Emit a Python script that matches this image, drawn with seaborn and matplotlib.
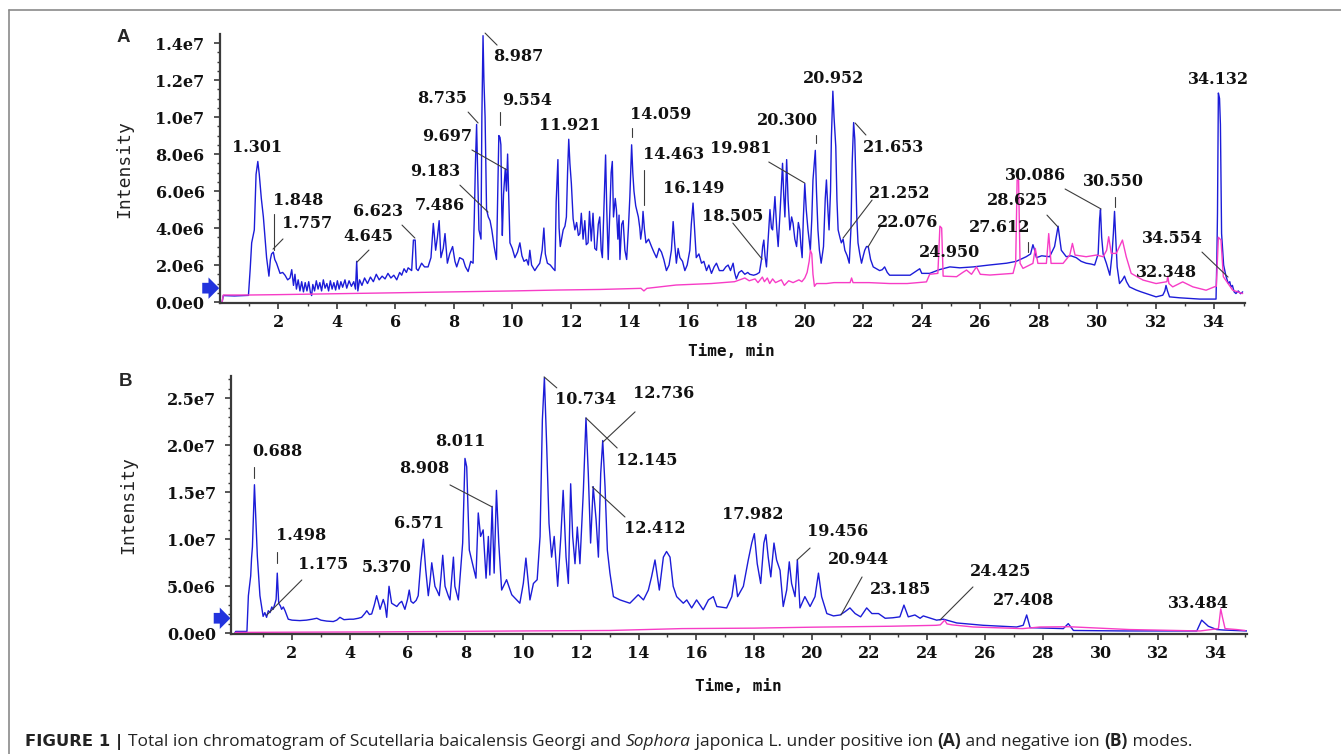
import numpy as np
import pandas as pd
import matplotlib
matplotlib.use("Agg")
import matplotlib.pyplot as plt
import seaborn as sns
from matplotlib.ticker import MultipleLocator, FixedLocator, FuncFormatter
from matplotlib.lines import Line2D

# ======== data (time in min, intensity in 1e6 counts) ========
a_pos_time = [0.08, 0.12, 0.5, 0.98, 1.04, 1.09, 1.18, 1.24, 1.30, 1.35, 1.42, 1.49, 1.60, 1.68, 1.73, 1.77,
              1.83, 1.88, 1.94, 2.06, 2.15, 2.23, 2.32, 2.40, 2.46, 2.52, 2.57, 2.62, 2.68, 2.74, 2.80, 2.86,
              2.92, 2.98, 3.04, 3.10, 3.14, 3.18, 3.24, 3.30, 3.36, 3.42, 3.48, 3.54, 3.60, 3.66, 3.72, 3.78,
              3.84, 3.90, 3.96, 4.02, 4.08, 4.14, 4.20, 4.28, 4.34, 4.42, 4.50, 4.58, 4.64, 4.68, 4.72, 4.78,
              4.86, 4.95, 5.05, 5.15, 5.25, 5.35, 5.45, 5.55, 5.65, 5.75, 5.85, 5.95, 6.05, 6.15, 6.22, 6.30,
              6.38, 6.44, 6.56, 6.62, 6.68, 6.72, 6.78, 6.90, 7.00, 7.12, 7.22, 7.30, 7.38, 7.44, 7.50, 7.56,
              7.64, 7.70, 7.78, 7.86, 7.96, 8.04, 8.10, 8.20, 8.32, 8.40, 8.49, 8.58, 8.66, 8.70, 8.74, 8.78,
              8.83, 8.86, 8.93, 8.96, 9.00, 9.03, 9.07, 9.12, 9.18, 9.24, 9.30, 9.38, 9.46, 9.50, 9.54, 9.58,
              9.61, 9.64, 9.66, 9.70, 9.76, 9.80, 9.84, 9.88, 9.92, 10.00, 10.09, 10.18, 10.26, 10.33, 10.40,
              10.49, 10.55, 10.60, 10.66, 10.77, 10.85, 10.94, 11.02, 11.08, 11.13, 11.20, 11.30, 11.40, 11.46,
              11.50, 11.56, 11.60, 11.64, 11.74, 11.80, 11.85, 11.89, 11.93, 11.97, 12.02, 12.08, 12.14, 12.20,
              12.26, 12.31, 12.36, 12.42, 12.48, 12.53, 12.59, 12.64, 12.70, 12.76, 12.82, 12.88, 12.94, 12.99,
              13.04, 13.08, 13.14, 13.19, 13.23, 13.28, 13.34, 13.38, 13.42, 13.46, 13.52, 13.56, 13.61, 13.65,
              13.68, 13.74, 13.79, 13.85, 13.91, 13.97, 14.02, 14.08, 14.12, 14.16, 14.22, 14.31, 14.36, 14.39,
              14.44, 14.47, 14.52, 14.57, 14.66, 14.76, 14.84, 14.93, 15.02, 15.10, 15.18, 15.27, 15.36, 15.44,
              15.50, 15.55, 15.61, 15.67, 15.73, 15.82, 15.90, 15.98, 16.07, 16.12, 16.18, 16.23, 16.29, 16.38,
              16.47, 16.55, 16.64, 16.72, 16.81, 16.90, 16.98, 17.08, 17.21, 17.30, 17.38, 17.46, 17.55, 17.60,
              17.66, 17.75, 17.84, 17.95, 18.05, 18.12, 18.25, 18.35, 18.45, 18.52, 18.56, 18.60, 18.64, 18.69,
              18.75, 18.81, 18.86, 18.90, 18.95, 18.98, 19.04, 19.09, 19.16, 19.24, 19.28, 19.32, 19.38, 19.43,
              19.49, 19.55, 19.60, 19.66, 19.72, 19.78, 19.83, 19.87, 19.91, 19.95, 20.00, 20.05, 20.11, 20.19,
              20.24, 20.28, 20.36, 20.40, 20.45, 20.50, 20.56, 20.64, 20.70, 20.74, 20.79, 20.83, 20.88, 20.91,
              20.96, 21.00, 21.06, 21.10, 21.14, 21.20, 21.25, 21.31, 21.37, 21.45, 21.52, 21.58, 21.62, 21.67,
              21.71, 21.74, 21.78, 21.82, 21.88, 21.94, 22.00, 22.05, 22.11, 22.17, 22.25, 22.34, 22.45, 22.56,
              22.65, 22.73, 22.82, 22.90, 23.2, 23.6, 23.93, 24.0, 24.27, 24.6, 24.96, 25.3, 25.76, 26.3, 26.9,
              27.23, 27.57, 27.72, 27.80, 27.86, 27.92, 28.1, 28.37, 28.54, 28.66, 28.72, 28.77, 28.94, 29.10,
              29.28, 29.45, 29.62, 29.80, 29.91, 30.03, 30.08, 30.11, 30.15, 30.20, 30.31, 30.43, 30.50, 30.55,
              30.59, 30.63, 30.68, 30.76, 30.86, 30.93, 31.0, 31.10, 31.33, 31.50, 31.67, 32.01, 32.24, 32.31,
              32.35, 32.40, 32.47, 32.81, 33.5, 34.06, 34.09, 34.11, 34.14, 34.18, 34.21, 34.25, 34.32, 34.40,
              34.48, 34.53, 34.57, 34.62, 34.68, 34.74, 34.82, 34.90, 34.97]
a_pos_int = [0.0, 0.35, 0.33, 0.36, 1.8, 3.2, 3.9, 6.9, 7.6, 6.9, 5.6, 4.6, 2.4, 1.4, 2.3, 2.6,
             2.7, 2.3, 2.1, 1.55, 1.6, 1.45, 1.2, 1.3, 1.75, 0.9, 1.5, 0.7, 1.2, 0.6, 1.1, 0.55,
             1.05, 0.6, 1.1, 0.5, 0.35, 0.95, 0.6, 1.15, 0.7, 1.05, 0.6, 1.2, 0.75, 1.0, 0.6, 1.15,
             0.7, 1.05, 0.65, 1.15, 0.7, 1.1, 0.8, 1.2, 0.75, 1.15, 0.85, 1.1, 0.7, 2.2, 0.6, 1.2,
             0.9, 1.3, 1.0, 1.35, 1.1, 1.5, 1.2, 1.4, 1.25, 1.55, 1.3, 1.45, 1.2, 1.6, 1.45, 1.8,
             1.6, 1.85, 1.7, 3.35, 3.35, 1.8, 1.7, 2.1, 1.9, 1.9, 2.4, 4.25, 2.8, 3.5, 4.4, 2.4,
             2.9, 3.7, 2.1, 2.6, 3.0, 2.2, 1.9, 2.4, 2.3, 1.9, 1.65, 2.2, 2.1, 4.5, 7.5, 9.6,
             6.0, 3.9, 3.4, 10.0, 14.4, 12.0, 10.0, 5.0, 4.6, 4.4, 3.9, 3.0, 2.3, 5.5, 9.0, 8.9,
             8.5, 5.0, 3.6, 5.8, 7.2, 6.0, 8.0, 5.5, 3.2, 2.9, 2.4, 2.7, 3.2, 2.5, 2.2,
             2.3, 2.0, 2.8, 2.0, 1.7, 1.9, 2.1, 2.8, 4.0, 2.6, 2.1, 2.0, 1.8, 1.7,
             5.4, 7.7, 4.0, 3.0, 3.9, 4.1, 4.6, 7.0, 8.8, 7.5, 6.4, 4.5, 3.9, 4.3,
             3.6, 3.7, 4.8, 3.4, 4.4, 3.1, 3.2, 4.9, 3.3, 4.8, 2.9, 2.8, 4.2, 4.6,
             2.8, 2.4, 5.5, 7.95, 5.0, 2.3, 5.2, 7.0, 7.6, 4.6, 5.6, 5.0, 3.4, 4.7,
             2.3, 4.2, 4.4, 2.8, 2.3, 4.0, 5.7, 8.5, 7.0, 6.0, 5.2, 4.6, 4.0, 3.4,
             4.0, 4.9, 3.9, 3.2, 3.4, 3.0, 2.7, 2.4, 2.9, 2.7, 2.3, 1.7, 2.0, 2.8,
             4.35, 3.2, 2.1, 2.9, 2.4, 2.2, 1.7, 2.0, 2.8, 4.2, 5.35, 4.0, 2.4, 2.6,
             2.1, 2.2, 1.7, 2.0, 1.55, 1.9, 2.1, 1.7, 1.7, 1.9, 2.0, 1.7, 2.1, 1.6,
             1.25, 1.6, 1.7, 1.5, 1.6, 1.5, 1.45, 1.5, 1.6, 2.3, 3.0, 3.35, 2.5, 1.9,
             3.5, 5.0, 4.0, 3.9, 5.0, 5.7, 4.0, 3.0, 5.0, 7.5, 5.8, 4.6, 7.7, 5.5,
             3.9, 4.6, 4.25, 3.4, 3.0, 4.3, 3.9, 3.0, 2.4, 4.5, 6.4, 5.0, 3.9, 2.8,
             4.5, 6.6, 8.2, 6.0, 3.9, 2.8, 2.1, 3.0, 5.6, 6.6, 5.0, 3.9, 6.0, 8.9,
             11.4, 10.0, 8.4, 5.5, 3.9, 3.5, 3.2, 3.4, 2.8, 2.5, 2.1, 4.0, 7.5, 9.7,
             8.8, 7.0, 4.5, 3.2, 2.6, 2.1, 2.5, 2.8, 3.0, 3.0, 2.3, 1.9, 1.8, 1.7,
             1.75, 1.9, 1.6, 1.45, 1.45, 1.45, 1.8, 1.55, 1.55, 1.75, 1.9, 1.85, 1.9, 2.0, 2.1,
             2.2, 2.45, 2.6, 3.1, 2.8, 2.4, 2.5, 2.45, 3.0, 4.1, 3.4, 2.8, 2.45, 2.5,
             2.4, 2.2, 2.1, 2.05, 2.0, 2.6, 4.5, 5.0, 3.5, 2.6, 2.1, 1.45, 2.5, 3.7,
             4.9, 3.5, 1.9, 1.0, 1.2, 1.4, 1.1, 0.82, 0.65, 0.55, 0.46, 0.28, 0.37, 0.6,
             0.9, 0.6, 0.28, 0.23, 0.16, 0.16, 2.5, 4.8, 11.3, 11.0, 9.6, 3.7, 2.0, 1.4,
             1.0, 1.1, 0.82, 0.9, 0.55, 0.46, 0.6, 0.45, 0.55]

a_neg_time = [0.08, 0.12, 1.0, 2.0, 4.0, 6.0, 8.0, 10.0, 11.6, 13.0, 14.4, 14.5, 14.6, 15.6, 16.8, 17.6,
              17.95, 18.1, 18.3, 18.4, 18.55, 18.62, 18.72, 18.8, 18.9, 19.0, 19.2, 19.3, 19.45, 19.6, 19.8,
              19.9, 20.0, 20.08, 20.15, 20.19, 20.24, 20.28, 20.33, 20.4, 20.74, 21.0, 21.55, 21.6, 21.65,
              22.2, 22.9, 23.5, 24.16, 24.27, 24.55, 24.62, 24.68, 24.73, 25.19, 25.4, 25.53, 25.7, 25.87,
              26.0, 26.33, 27.12, 27.21, 27.26, 27.31, 27.36, 27.46, 27.8, 27.88, 27.97, 28.26, 28.34, 28.42,
              28.83, 29.06, 29.15, 29.24, 29.62, 29.97, 30.2, 30.32, 30.39, 30.48, 30.65, 30.86, 30.99,
              31.16, 31.56, 32.01, 32.38, 32.41, 32.45, 32.58, 32.92, 33.27, 33.72, 34.0, 34.07, 34.14,
              34.23, 34.31, 34.63, 34.97]
a_neg_int = [0.0, 0.38, 0.38, 0.4, 0.45, 0.5, 0.55, 0.6, 0.65, 0.68, 0.74, 0.6, 0.74, 0.92, 1.0, 1.1,
             1.3, 1.15, 1.25, 1.05, 1.35, 1.1, 1.3, 1.0, 1.25, 1.05, 1.2, 0.9, 1.15, 1.05, 1.2,
             1.1, 1.3, 1.6, 2.2, 2.8, 2.6, 1.5, 0.85, 1.0, 1.0, 1.05, 1.05, 1.3, 1.05,
             1.05, 1.0, 1.0, 1.09, 1.5, 1.55, 4.1, 4.0, 1.4, 1.37, 1.6, 1.73, 1.5, 1.9,
             1.5, 1.46, 1.55, 2.1, 6.6, 6.6, 2.1, 1.82, 2.09, 2.9, 2.09, 2.09, 3.7, 2.09,
             2.09, 2.54, 3.17, 2.54, 2.45, 2.54, 2.45, 2.8, 3.53, 2.63, 2.63, 3.35, 2.45,
             1.55, 1.19, 1.0, 1.1, 1.4, 1.0, 0.82, 1.09, 0.82, 0.64, 0.82, 0.85, 3.5,
             3.35, 1.37, 0.64, 0.46]

b_pos_time = [0.02, 0.05, 0.44, 0.49, 0.57, 0.60, 0.63, 0.67, 0.70, 0.74, 0.80, 0.89, 1.0, 1.06, 1.12,
              1.18, 1.24, 1.30, 1.35, 1.45, 1.49, 1.54, 1.60, 1.64, 1.70, 1.76, 1.87, 2.0, 2.27, 2.5, 2.7,
              2.86, 3.0, 3.2, 3.43, 3.55, 3.66, 3.8, 4.0, 4.13, 4.3, 4.41, 4.52, 4.59, 4.68, 4.76, 4.85,
              4.93, 5.0, 5.05, 5.16, 5.22, 5.28, 5.36, 5.45, 5.55, 5.63, 5.72, 5.8, 5.91, 6.0, 6.06, 6.12,
              6.2, 6.3, 6.37, 6.46, 6.55, 6.63, 6.72, 6.78, 6.84, 6.95, 7.03, 7.1, 7.16, 7.22, 7.3, 7.41,
              7.47, 7.59, 7.64, 7.76, 7.91, 7.99, 8.05, 8.14, 8.25, 8.37, 8.45, 8.53, 8.62, 8.72, 8.8, 8.85,
              8.93, 9.0, 9.08, 9.16, 9.26, 9.43, 9.61, 9.89, 10.01, 10.1, 10.24, 10.36, 10.49, 10.59, 10.67,
              10.74, 10.82, 10.9, 10.99, 11.08, 11.2, 11.31, 11.39, 11.49, 11.57, 11.65, 11.72, 11.8, 11.88,
              11.97, 12.09, 12.18, 12.26, 12.34, 12.43, 12.53, 12.61, 12.69, 12.76, 12.84, 12.92, 13.01,
              13.13, 13.36, 13.7, 13.99, 14.17, 14.34, 14.45, 14.57, 14.72, 14.86, 14.97, 15.09, 15.2,
              15.32, 15.55, 15.67, 15.84, 16.01, 16.24, 16.42, 16.59, 16.71, 17.05, 17.23, 17.34, 17.43,
              17.63, 17.8, 17.92, 18.01, 18.11, 18.23, 18.34, 18.41, 18.49, 18.58, 18.69, 18.78, 18.9,
              19.01, 19.13, 19.22, 19.3, 19.42, 19.5, 19.59, 19.76, 19.94, 20.11, 20.23, 20.34, 20.52,
              20.75, 20.98, 21.15, 21.32, 21.5, 21.69, 21.9, 22.08, 22.31, 22.54, 22.8, 23.05, 23.19,
              23.34, 23.57, 23.75, 23.86, 24.32, 24.56, 25.02, 25.94, 27.09, 27.32, 27.44, 27.56, 28.71,
              28.88, 29.06, 30.79, 33.33, 33.5, 33.73, 34.02, 34.25, 35.06]
b_pos_int = [0.0, 0.2, 0.2, 4.0, 6.1, 8.0, 9.2, 13.0, 15.8, 12.8, 8.2, 4.0, 1.8, 2.2, 1.7,
             2.4, 2.2, 2.8, 2.55, 3.6, 6.4, 3.2, 2.9, 2.55, 2.8, 2.4, 1.5, 1.4, 1.35, 1.4, 1.5,
             1.6, 1.4, 1.3, 1.25, 1.4, 1.7, 1.45, 1.5, 1.5, 1.6, 1.7, 2.1, 2.4, 2.0, 2.06, 3.0,
             4.0, 3.2, 2.55, 3.6, 3.0, 1.7, 5.0, 3.2, 3.0, 2.85, 3.2, 3.4, 2.55, 3.6, 4.6, 3.4,
             3.2, 3.5, 4.0, 7.5, 10.0, 6.8, 4.0, 5.5, 7.5, 5.0, 4.5, 4.0, 6.0, 8.3, 5.0, 4.0,
             3.55, 8.1, 5.0, 3.55, 9.6, 18.6, 17.7, 8.85, 7.4, 5.86, 12.8, 10.3, 11.0, 5.86, 10.3, 6.2,
             13.5, 6.4, 15.2, 9.6, 4.6, 5.7, 4.1, 3.2, 5.3, 8.0, 3.55, 5.3, 5.7, 10.3, 22.7,
             27.2, 19.9, 11.7, 8.1, 10.3, 5.0, 10.3, 15.2, 8.1, 5.3, 15.9, 10.3, 7.4, 11.3,
             7.4, 15.2, 22.9, 17.0, 9.6, 15.6, 12.1, 8.1, 17.0, 20.5, 15.6, 8.85, 6.4,
             3.9, 3.55, 3.2, 4.1, 3.55, 4.6, 6.0, 7.8, 4.6, 8.1, 8.7, 8.1, 5.0,
             3.9, 3.2, 3.55, 2.7, 3.55, 2.5, 3.55, 3.9, 2.85, 2.7, 3.9, 6.2, 3.9,
             5.0, 7.8, 9.6, 10.6, 7.4, 5.3, 9.6, 10.5, 8.1, 6.0, 9.6, 7.8, 6.7,
             2.85, 4.6, 7.6, 5.3, 3.9, 7.8, 2.7, 3.9, 2.85, 3.9, 6.4, 3.9, 2.1,
             1.85, 1.95, 2.3, 2.7, 2.1, 1.75, 2.7, 2.1, 2.1, 1.6, 1.65, 1.75, 3.0,
             1.75, 1.95, 1.6, 1.85, 1.4, 1.5, 1.1, 0.85, 0.67, 0.85, 1.95, 0.6, 0.5,
             1.03, 0.3, 0.25, 0.25, 1.4, 0.75, 0.4, 0.35, 0.25]

b_neg_time = [0.02, 0.05, 0.45, 2.0, 5.0, 7.47, 10.0, 13.0, 15.5, 18.0, 20.0, 22.71, 24.3, 24.45, 24.6,
              24.68, 24.85, 25.6, 27.3, 27.9, 28.9, 29.6, 31.0, 33.45, 34.08, 34.16, 34.22, 34.31, 34.71, 35.0]
b_neg_int = [0.0, 0.1, 0.1, 0.12, 0.15, 0.2, 0.25, 0.3, 0.5, 0.55, 0.65, 0.75, 0.85, 0.9, 1.4,
             1.0, 0.9, 0.67, 0.5, 0.67, 0.7, 0.6, 0.4, 0.25, 0.5, 2.6, 1.7, 0.5, 0.4, 0.3]

# ======== peak labels ========
a_peak_labels = ["1.301", "1.848", "1.757", "4.645", "6.623", "7.486", "9.183", "9.697", "8.735", "8.987",
                 "9.554", "11.921", "14.059", "14.463", "16.149", "18.505", "19.981", "20.300", "20.952",
                 "21.653", "21.252", "22.076", "24.950", "27.612", "28.625", "30.086", "30.550", "34.132",
                 "34.554", "32.348"]
b_peak_labels = ["0.688", "1.498", "1.175", "5.370", "6.571", "8.011", "8.908", "10.734", "12.736", "12.145",
                 "12.412", "17.982", "19.456", "20.944", "23.185", "24.425", "27.408", "33.484"]

# where each label sits (left, middle) and its leader line, in data units
a_label_xy = [(0.42, 8.38), (1.82, 5.51), (2.13, 4.22), (4.21, 3.57), (4.55, 4.92), (6.67, 5.24),
              (6.5, 7.03), (6.91, 8.97), (6.74, 11.03), (9.34, 13.3), (9.65, 10.92), (10.91, 9.57),
              (14.02, 10.16), (14.47, 7.95), (15.15, 6.16), (16.48, 4.65), (16.76, 8.32), (18.37, 9.84),
              (19.94, 12.1), (21.99, 8.38), (22.19, 5.89), (22.47, 4.32), (23.9, 2.7), (25.61, 4.05),
              (26.23, 5.51), (26.85, 6.86), (29.51, 6.49), (33.1, 12.05), (31.53, 3.46), (31.32, 1.62)]
a_leaders = [None, (1.85, 4.76, 1.85, 2.81), (2.16, 3.41, 1.82, 2.86), (5.1, 2.81, 4.69, 2.16),
             (6.23, 4.16, 6.67, 3.46), None, (8.21, 6.32, 9.17, 4.86), (8.62, 8.22, 9.82, 7.14),
             (8.49, 10.27, 8.83, 9.68), (9.07, 14.54, 9.48, 13.89), (9.58, 10.27, 9.58, 9.57), None,
             (14.09, 9.41, 14.09, 8.92), (14.5, 7.14, 14.5, 5.24), None, (17.54, 4.27, 18.54, 2.32),
             (18.77, 7.57, 20.0, 6.43), (20.38, 9.03, 20.38, 8.59), None, (21.72, 9.68, 22.09, 9.03),
             (22.3, 5.51, 21.31, 3.46), (22.57, 4.05, 22.16, 2.97), None, (27.63, 3.24, 27.63, 2.7),
             (28.28, 4.7, 28.66, 4.05), (28.9, 6.11, 30.13, 5.03), (30.6, 5.68, 30.6, 5.14), None,
             (33.58, 2.7, 34.47, 1.35), None]
b_label_xy = [(0.61, 19.29), (1.44, 10.35), (2.21, 7.27), (4.42, 6.95), (5.53, 11.63), (6.95, 20.35),
              (5.7, 17.48), (11.11, 24.82), (13.81, 25.46), (13.22, 18.33), (13.5, 11.1), (16.89, 12.6),
              (19.83, 10.88), (20.56, 7.9), (22.01, 4.71), (25.48, 6.52), (26.28, 3.54), (32.34, 3.22)]
b_leaders = [(0.68, 17.7, 0.68, 16.52), (1.48, 8.65, 1.48, 7.48), (2.34, 5.67, 1.13, 1.95), None, None, None,
             (7.47, 15.78, 8.93, 13.44), (10.73, 27.27, 11.17, 26.1), (13.88, 23.55, 12.77, 20.35),
             (12.18, 22.9, 13.26, 19.71), (12.4, 15.57, 13.53, 12.37), None, (19.94, 9.07, 19.49, 7.8),
             (21.74, 5.99, 21.01, 1.95), None, (25.58, 4.93, 24.44, 1.42), None, None]

BLUE = "#1c1cd8"
PINK = "#f73cc6"
AXIS = "#3a3a3a"
NUM_FONT = "DejaVu Serif"

sns.set_theme(style="ticks")
# default text (tick labels) in a bold serif; other texts name their own family
plt.rcParams["font.family"] = [NUM_FONT]
plt.rcParams["font.weight"] = "bold"


def sci_label(v, pos):
    if abs(v) < 1e-9:
        return "0.0e0"
    if v < 0:
        return ""
    val = v * 1e6
    ex = int(np.floor(np.log10(val) + 1e-9))
    return f"{val / 10 ** ex:.1f}e{ex}"


def draw_panel(ax, pos_t, pos_i, neg_t, neg_i, labels, label_xy, leaders, ylim, xlim, ymajor, yminor, arrow_y):
    pos_df = pd.DataFrame({"time": pos_t, "intensity": pos_i})
    neg_df = pd.DataFrame({"time": neg_t, "intensity": neg_i})
    sns.lineplot(data=pos_df, x="time", y="intensity", ax=ax, color=BLUE, lw=1.0,
                 estimator=None, sort=False)
    sns.lineplot(data=neg_df, x="time", y="intensity", ax=ax, color=PINK, lw=1.0,
                 estimator=None, sort=False)
    ax.set_xlim(*xlim)
    ax.set_ylim(*ylim)

    ax.xaxis.set_major_locator(FixedLocator(list(range(2, 35, 2))))
    ax.xaxis.set_minor_locator(FixedLocator(list(range(1, 36, 2))))
    ax.yaxis.set_major_locator(MultipleLocator(ymajor))
    ax.yaxis.set_minor_locator(MultipleLocator(yminor))
    ax.yaxis.set_major_formatter(FuncFormatter(sci_label))
    ax.tick_params(axis="both", which="major", direction="out", length=4, width=1.2, color=AXIS,
                   labelsize=11.5, labelcolor="#111111")
    ax.tick_params(axis="both", which="minor", direction="out", length=2.2, width=1.0, color=AXIS)
    ax.tick_params(axis="y", which="major", pad=7)
    ax.tick_params(axis="x", which="major", pad=4)
    sns.despine(ax=ax)
    for s in ["left", "bottom"]:
        ax.spines[s].set_color(AXIS)
        ax.spines[s].set_linewidth(1.6)

    ax.set_ylabel("Intensity", fontfamily="DejaVu Sans Mono", fontsize=13, fontweight="normal",
                  color="#222222")
    ax.set_xlabel("Time, min", fontfamily="DejaVu Sans Mono", fontsize=11.5, fontweight="bold",
                  color="#111111")

    for lab, (tx, ty), lead in zip(labels, label_xy, leaders):
        ax.text(tx, ty, lab, ha="left", va="center", fontsize=11.5, fontfamily=NUM_FONT,
                fontweight="bold", color="#111111", clip_on=False)
        if lead is not None:
            ax.plot([lead[0], lead[2]], [lead[1], lead[3]], color="#3c3c3c", lw=0.8, clip_on=False)

    ax.annotate("", xy=(xlim[0] - 0.02, arrow_y), xytext=(xlim[0] - 0.6, arrow_y),
                arrowprops=dict(arrowstyle="simple,head_length=0.55,head_width=1.1,tail_width=0.55",
                                color="#2233dd", lw=0, shrinkA=0, shrinkB=0, mutation_scale=14),
                annotation_clip=False)


fig = plt.figure(figsize=(13.41, 7.54), dpi=100)
ax_a = fig.add_axes([0.1639, 0.5977, 0.7645, 0.3572])
ax_b = fig.add_axes([0.1723, 0.1592, 0.7574, 0.3422])

draw_panel(ax_a, a_pos_time, a_pos_int, a_neg_time, a_neg_int, a_peak_labels, a_label_xy, a_leaders,
           ylim=(-0.07, 14.49), xlim=(0.0, 35.05), ymajor=2.0, yminor=0.5, arrow_y=0.75)
draw_panel(ax_b, b_pos_time, b_pos_int, b_neg_time, b_neg_int, b_peak_labels, b_label_xy, b_leaders,
           ylim=(-0.07, 27.37), xlim=(-0.11, 35.06), ymajor=5.0, yminor=1.0, arrow_y=1.6)

ax_a.yaxis.set_label_coords(-0.0847, 0.5)
ax_b.yaxis.set_label_coords(-0.0925, 0.5)
ax_a.xaxis.set_label_coords(0.4987, -0.150)
ax_b.xaxis.set_label_coords(0.499, -0.174)

# panel letters
fig.text(117 / 1341, 1 - 38 / 754, "A", fontsize=13.5, fontweight="bold", fontfamily="Liberation Sans",
         ha="left", va="center")
fig.text(119 / 1341, 1 - 382 / 754, "B", fontsize=13.5, fontweight="bold", fontfamily="Liberation Sans",
         ha="left", va="center")

# frame lines (left + top)
fig.add_artist(Line2D([9 / 1341, 9 / 1341], [0, 1 - 10 / 754], color="#8a8a8a", lw=1.2))
fig.add_artist(Line2D([9 / 1341, 1], [1 - 10 / 754, 1 - 10 / 754], color="#8a8a8a", lw=1.2))

# caption with mixed styles: (text, family, weight, style, size)
caption_parts = [("FIGURE 1 | ", "DejaVu Sans", "bold", "normal", 11.8),
                 ("Total ion chromatogram of Scutellaria baicalensis Georgi and ", "Open Sans", "normal", "normal", 12.5),
                 ("Sophora", "Open Sans", "normal", "italic", 12.5),
                 (" japonica L. under positive ion ", "Open Sans", "normal", "normal", 12.5),
                 ("(A)", "Open Sans", "bold", "normal", 12.5),
                 (" and negative ion ", "Open Sans", "normal", "normal", 12.5),
                 ("(B)", "Open Sans", "bold", "normal", 12.5),
                 (" modes.", "Open Sans", "normal", "normal", 12.5)]
fig.canvas.draw()
renderer = fig.canvas.get_renderer()
cx = 25 / 1341
cy = 1 - 746 / 754
for txt, fam, wt, st, sz in caption_parts:
    t = fig.text(cx, cy, txt, fontsize=sz, fontweight=wt, fontstyle=st, fontfamily=fam,
                 ha="left", va="baseline", color="#222222")
    bb = t.get_window_extent(renderer)
    cx += bb.width / fig.bbox.width

fig.savefig("out.png", dpi=100)
